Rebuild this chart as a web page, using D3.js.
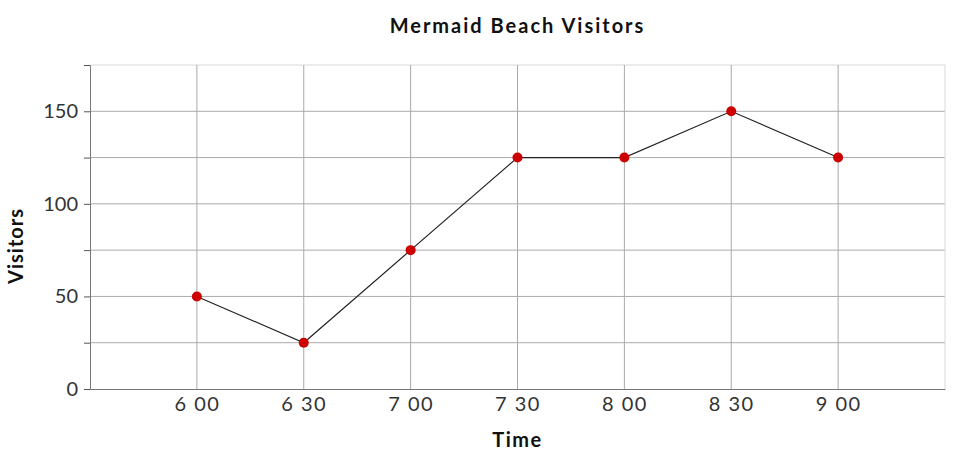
<!DOCTYPE html>
<html>
<head>
<meta charset="utf-8">
<script src="https://cdn.jsdelivr.net/npm/d3@7"></script>
<style>
  body { margin: 0; background: #fff; }
  svg { display: block; font-family: Lato, "Noto Sans", sans-serif; }
</style>
</head>
<body>
<svg id="chart"></svg>
<script>
// data
const times = ['6 00', '6 30', '7 00', '7 30', '8 00', '8 30', '9 00'];
const visitors = [50, 25, 75, 125, 125, 150, 125];
const yTicks = [0, 25, 50, 75, 100, 125, 150, 175];
const yLabels = [0, 50, 100, 150];

const width = 964;
const height = 456;
const margin = { top: 65, right: 19, bottom: 67, left: 90 };

const svg = d3.select('#chart')
  .attr('width', width)
  .attr('height', height);

const x = d3.scalePoint()
  .domain(times)
  .range([margin.left, width - margin.right])
  .padding(1);

const y = d3.scaleLinear()
  .domain([0, 175])
  .range([height - margin.bottom, margin.top]);

// grid
svg.append('g')
  .selectAll('line')
  .data(yTicks.slice(1))
  .join('line')
  .attr('x1', margin.left)
  .attr('x2', width - margin.right)
  .attr('y1', d => y(d))
  .attr('y2', d => y(d))
  .attr('stroke', d => d === 175 ? '#d8d8d8' : '#aaa')
  .attr('stroke-width', 1);

svg.append('g')
  .selectAll('line')
  .data(times)
  .join('line')
  .attr('x1', d => x(d))
  .attr('x2', d => x(d))
  .attr('y1', margin.top)
  .attr('y2', height - margin.bottom)
  .attr('stroke', '#aaa')
  .attr('stroke-width', 1);

// right border
svg.append('line')
  .attr('x1', width - margin.right)
  .attr('x2', width - margin.right)
  .attr('y1', margin.top)
  .attr('y2', height - margin.bottom)
  .attr('stroke', '#d8d8d8');

// axes
const yAxis = d3.axisLeft(y)
  .tickValues(yTicks)
  .tickSize(6)
  .tickFormat(d => yLabels.includes(d) ? d : '');

svg.append('g')
  .attr('transform', `translate(${margin.left},0)`)
  .call(yAxis)
  .call(g => g.select('.domain').attr('stroke', '#777'))
  .call(g => g.selectAll('.tick line').attr('stroke', '#555'))
  .call(g => g.selectAll('.tick text')
    .attr('font-size', 20)
    .attr('font-family', 'Lato, sans-serif')
    .attr('fill', '#333')
    .attr('x', -12));

const xAxis = d3.axisBottom(x).tickSize(0).tickSizeOuter(0);

svg.append('g')
  .attr('transform', `translate(0,${height - margin.bottom})`)
  .call(xAxis)
  .call(g => g.select('.domain').attr('stroke', '#777'))
  .call(g => g.selectAll('.tick text')
    .attr('font-size', 20)
    .attr('font-family', 'Lato, sans-serif')
    .attr('letter-spacing', 1.5)
    .attr('fill', '#333')
    .attr('dy', '0.71em')
    .attr('y', 8));

// line
const line = d3.line()
  .x((d, i) => x(times[i]))
  .y(d => y(d));

svg.append('path')
  .datum(visitors)
  .attr('fill', 'none')
  .attr('stroke', '#222')
  .attr('stroke-width', 1.2)
  .attr('d', line);

svg.append('g')
  .selectAll('circle')
  .data(visitors)
  .join('circle')
  .attr('cx', (d, i) => x(times[i]))
  .attr('cy', d => y(d))
  .attr('r', 5)
  .attr('fill', '#cc0000');

// titles
const plotCx = (margin.left + width - margin.right) / 2;

svg.append('text')
  .attr('x', plotCx)
  .attr('y', 33)
  .attr('text-anchor', 'middle')
  .attr('font-size', 20)
  .attr('font-weight', 'bold')
  .attr('letter-spacing', 2)
  .attr('fill', '#111')
  .text('Mermaid Beach Visitors');

svg.append('text')
  .attr('x', plotCx)
  .attr('y', 447)
  .attr('text-anchor', 'middle')
  .attr('font-size', 20)
  .attr('font-weight', 'bold')
  .attr('letter-spacing', 1.5)
  .attr('fill', '#111')
  .text('Time');

svg.append('text')
  .attr('transform', `translate(23,246) rotate(-90)`)
  .attr('text-anchor', 'middle')
  .attr('font-size', 20)
  .attr('font-weight', 'bold')
  .attr('letter-spacing', 1)
  .attr('fill', '#111')
  .text('Visitors');
</script>
</body>
</html>
